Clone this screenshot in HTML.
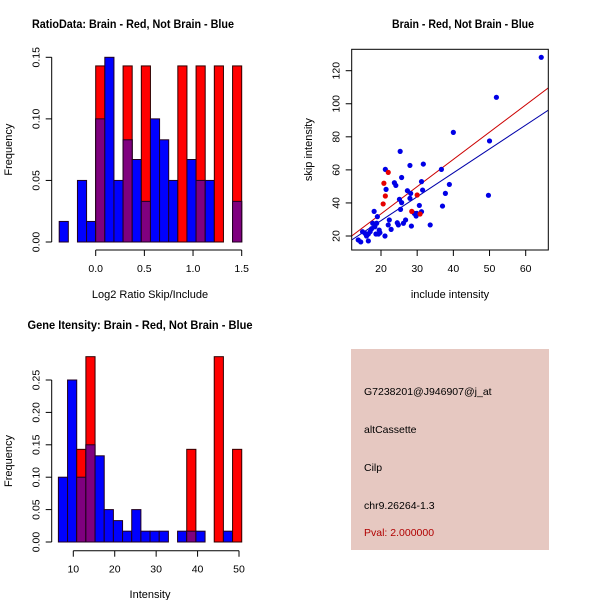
<!DOCTYPE html>
<html><head><meta charset="utf-8"><style>
body{margin:0;background:#fff;}
svg{display:block;font-family:"Liberation Sans",Arial,sans-serif;}
</style></head><body>
<svg id="c" width="600" height="600" viewBox="0 0 600 600" xmlns="http://www.w3.org/2000/svg">
<rect width="600" height="600" fill="#fff"/>
<g id="p1"></g>
<g id="p2"></g>
<g id="p3"></g>
<g id="p4">
<rect x="351" y="349" width="198" height="201" fill="#e6c8c1"/>
<text x="364" y="395" font-size="10.5">G7238201@J946907@j_at</text>
<text x="364" y="433" font-size="10.5">altCassette</text>
<text x="364" y="471" font-size="10.5">Cilp</text>
<text x="364" y="509" font-size="10.5">chr9.26264-1.3</text>
<text x="364" y="536" font-size="10.5" fill="#b00000">Pval: 2.000000</text>
</g>
</svg>
<script>
// Ratio histogram data
const ratioBinStart = -0.375;
const ratioBinWidth = 0.09375;
const ratioBlue = [0.0167,0,0.05,0.0167,0.1,0.15,0.05,0.083,0.067,0.033,0.1,0.083,0.05,0,0.067,0.05,0.05,0,0,0.033];
const ratioRed  = [0,0,0,0,0.143,0,0,0.143,0,0.143,0,0,0,0.143,0,0.143,0,0.143,0,0.143];
const ratioXTicks = [0,0.5,1.0,1.5];
const ratioXTickLabels = ["0.0","0.5","1.0","1.5"];
const ratioYTicks = [0,0.05,0.10,0.15];
const ratioYTickLabels = ["0.00","0.05","0.10","0.15"];
// Intensity histogram data
const intBinStart = 6.4;
const intBinWidth = 2.213;
const intBlue = [0.1,0.25,0.1,0.15,0.133,0.05,0.033,0.0167,0.05,0.0167,0.0167,0.0167,0,0.0167,0.0167,0.0167,0,0,0.0167,0];
const intRed  = [0,0,0.143,0.286,0,0,0,0,0,0,0,0,0,0,0.143,0,0,0.286,0,0.143];
const intXTicks = [10,20,30,40,50];
const intXTickLabels = ["10","20","30","40","50"];
const intYTicks = [0,0.05,0.10,0.15,0.20,0.25];
const intYTickLabels = ["0.00","0.05","0.10","0.15","0.20","0.25"];
// Scatter data
const blueX = [13.7,14.4,14.9,15.6,16,16.5,16.5,17,17.4,17.7,18.1,18.3,18.6,19,18.8,19.5,19.7,19.3,21.2,21.4,21.1,22,22.3,22.8,23.7,24.1,24.5,24.8,25.3,25.1,25.4,25.7,25.7,26.2,26.8,27.3,28,28.2,28,28.4,29.2,29.7,30.6,31.2,31.5,31.2,31.7,29.9,33.6,36.7,37,37.8,38.9,40,49.7,50,51.9,64.3];
const blueY = [17.6,16.4,22.6,21.6,20,21.2,17,22.6,24.4,27.7,34.9,25.6,21.2,31.7,27.7,23.6,22,21.2,60.3,48.2,20,26.7,29.7,24,52.2,50.6,28,26.7,71.2,42.2,36.1,55.4,40.2,27.7,29.7,47.4,62.7,45.8,42.8,26,33.7,32.1,38.5,52.9,47.8,34.7,63.5,33.7,26.7,60.3,38.1,45.8,51.2,82.7,44.6,77.5,103.9,128.1];
const redX = [20.6,20.8,21.2,22,28.5,30,30.8];
const redY = [39.4,51.9,44.2,58.5,34.9,44.8,33.3];
const redFit = [0.38,1.649];
const blueFit = [0.4,1.445];
const scXTicks = [20,30,40,50,60];
const scYTicks = [20,40,60,80,100,120];

const NS="http://www.w3.org/2000/svg";
function mk(parent,tag,attrs,txt){const e=document.createElementNS(NS,tag);for(const k in attrs)e.setAttribute(k,attrs[k]);if(txt!==undefined)e.textContent=txt;parent.appendChild(e);return e;}
function lin(d0,d1,p0,p1){return v=>p0+(v-d0)*(p1-p0)/(d1-d0);}

function histPanel(g,o){
  const xs=lin(o.xd[0],o.xd[1],o.xp[0],o.xp[1]);
  const ys=lin(0,o.yd1,o.y0,o.y1);
  for(let i=0;i<o.blue.length;i++){
    const a=o.start+i*o.w, b=a+o.w, x=xs(a), wpx=xs(b)-xs(a);
    const bv=o.blue[i], rv=o.red[i];
    if(bv>0){const r=mk(g,'rect',{x:x,y:ys(bv),width:wpx,height:o.y0-ys(bv),fill:'#0000ff',stroke:'#200020','stroke-width':1});
      
      }
    if(rv>0){const r=mk(g,'rect',{x:x,y:ys(rv),width:wpx,height:o.y0-ys(rv),fill:'#ff0000',stroke:'#300000','stroke-width':1});
      
      }
    const m=Math.min(bv,rv);
    if(m>0){const r=mk(g,'rect',{x:x,y:ys(m),width:wpx,height:o.y0-ys(m),fill:'#7f007f',stroke:'#200020','stroke-width':1});
      
      }
  }
  const ya=mk(g,'g',{});
  
  
  mk(ya,'line',{x1:o.ax,y1:ys(o.yt[0]),x2:o.ax,y2:ys(o.yt[o.yt.length-1]),stroke:'#000'});
  o.yt.forEach((v,i)=>{const y=ys(v);mk(ya,'line',{x1:o.ax,y1:y,x2:o.ax-6,y2:y,stroke:'#000'});
    mk(ya,'text',{x:0,y:0,'font-size':10.5,'text-anchor':'middle',transform:`translate(${o.ax-12},${y}) rotate(-90)`},o.ytl[i]);});
  const xa=mk(g,'g',{});
  
  
  mk(xa,'line',{x1:xs(o.xt[0]),y1:o.axy,x2:xs(o.xt[o.xt.length-1]),y2:o.axy,stroke:'#000'});
  o.xt.forEach((v,i)=>{const x=xs(v);mk(xa,'line',{x1:x,y1:o.axy,x2:x,y2:o.axy+6,stroke:'#000'});
    mk(xa,'text',{x:x,y:o.axy+22,'font-size':10.5,'text-anchor':'middle'},o.xtl[i]);});
  const t=mk(g,'text',{x:o.tx,y:o.ty,'font-size':12,'font-weight':'bold','text-anchor':'middle',textLength:o.tl,lengthAdjust:'spacingAndGlyphs'},o.title);
  
  
  const xl=mk(g,'text',{x:o.xlx,y:o.xly,'font-size':11,'text-anchor':'middle'},o.xlab);
  
  
  const yl=mk(g,'text',{x:0,y:0,'font-size':11,'text-anchor':'middle',transform:`translate(12,${(o.y0+o.y1)/2}) rotate(-90)`},'Frequency');
  
  
}

histPanel(document.getElementById('p1'),{xd:[0,1.5],xp:[95.7,241.7],yd1:0.15,y0:242,y1:57.3,
  start:ratioBinStart,w:ratioBinWidth,blue:ratioBlue,red:ratioRed,ax:51.7,axy:250,
  yt:ratioYTicks,ytl:ratioYTickLabels,xt:ratioXTicks,xtl:ratioXTickLabels,
  title:'RatioData: Brain - Red, Not Brain - Blue',tx:133,ty:28,tl:202,xlab:'Log2 Ratio Skip/Include',xlx:150,xly:298});
histPanel(document.getElementById('p3'),{xd:[10,50],xp:[73.3,239],yd1:0.25,y0:542,y1:380,
  start:intBinStart,w:intBinWidth,blue:intBlue,red:intRed,ax:51.7,axy:550.7,
  yt:intYTicks,ytl:intYTickLabels,xt:intXTicks,xtl:intXTickLabels,
  title:'Gene Itensity: Brain - Red, Not Brain - Blue',tx:140,ty:329,tl:225,xlab:'Intensity',xlx:150,xly:598});

(function(){
  const g=document.getElementById('p2');
  const L=351.7,R=548.3,T=49.3,B=250;
  const xs=lin(20,60,381,525.7), ys=lin(20,120,236,70.7);
  const cp=mk(g,'clipPath',{id:'sc'});
  mk(cp,'rect',{x:L,y:T,width:R-L,height:B-T});
  const xmin=(L-381)/3.6175+20, xmax=(R-381)/3.6175+20;
  const lr=mk(g,'line',{x1:xs(xmin),y1:ys(redFit[0]+redFit[1]*xmin),x2:xs(xmax),y2:ys(redFit[0]+redFit[1]*xmax),stroke:'#cc0000','clip-path':'url(#sc)'});
  
  
  const lb=mk(g,'line',{x1:xs(xmin),y1:ys(blueFit[0]+blueFit[1]*xmin),x2:xs(xmax),y2:ys(blueFit[0]+blueFit[1]*xmax),stroke:'#0000aa','clip-path':'url(#sc)'});
  
  
  blueX.forEach((v,i)=>{const c=mk(g,'circle',{cx:xs(v),cy:ys(blueY[i]),r:2.6,fill:'#0000e6'});
    
    });
  redX.forEach((v,i)=>{const c=mk(g,'circle',{cx:xs(v),cy:ys(redY[i]),r:2.6,fill:'#e60000'});
    
    });
  const box=mk(g,'rect',{x:L,y:T,width:R-L,height:B-T,fill:'none',stroke:'#000'});
  
  
  scXTicks.forEach(v=>{const x=xs(v);mk(g,'line',{x1:x,y1:B,x2:x,y2:B+6,stroke:'#000'});
    mk(g,'text',{x:x,y:B+22,'font-size':10.5,'text-anchor':'middle'},String(v));});
  scYTicks.forEach(v=>{const y=ys(v);mk(g,'line',{x1:L,y1:y,x2:L-6,y2:y,stroke:'#000'});
    mk(g,'text',{x:0,y:0,'font-size':10.5,'text-anchor':'middle',transform:`translate(${L-12},${y}) rotate(-90)`},String(v));});
  const t=mk(g,'text',{x:463,y:28,'font-size':12,'font-weight':'bold','text-anchor':'middle',textLength:142,lengthAdjust:'spacingAndGlyphs'},'Brain - Red, Not Brain - Blue');
  
  
  const xl=mk(g,'text',{x:450,y:298,'font-size':11,'text-anchor':'middle'},'include intensity');
  
  
  const yl=mk(g,'text',{x:0,y:0,'font-size':11,'text-anchor':'middle',transform:`translate(312,${(T+B)/2}) rotate(-90)`},'skip intensity');
  
  
})();
</script>
</body></html>
